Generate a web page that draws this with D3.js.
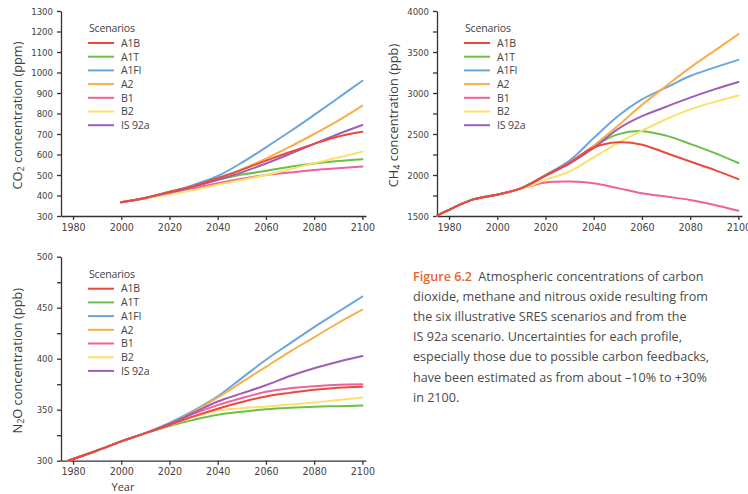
<!DOCTYPE html>
<html>
<head>
<meta charset="utf-8">
<script src="https://cdn.jsdelivr.net/npm/d3@7"></script>
<style>
  body { margin: 0; background: #fff; }
  svg { display: block; }
  .tick text { font-family: 'Liberation Sans Narrow', 'Arial Narrow', 'DejaVu Sans Condensed', sans-serif; fill: #444; }
  .axis path, .axis line { stroke: #333; stroke-width: 1.3; }
  .ytitle, .xtitle { font-family: 'Open Sans', 'Noto Sans', sans-serif; fill: #3e3e3e; }
  .ytitle { font-size: 12.8px; }
  .xtitle { font-size: 11px; }
  .legend text { font-family: 'Open Sans', 'Noto Sans', sans-serif; font-size: 10.6px; fill: #444; letter-spacing: -0.2px; }
  .caption { font-family: 'Open Sans', 'Noto Sans', sans-serif; font-size: 12.6px; fill: #4a4a4a; }
</style>
</head>
<body>
<svg width="748" height="494"></svg>
<script>
const svg = d3.select('svg')

// scenario names + colours
const scenarios = ['A1B', 'A1T', 'A1FI', 'A2', 'B1', 'B2', 'IS 92a']
const colors = ['#e94a3c', '#6cc04a', '#6aa7dc', '#f9ae4b', '#f0609e', '#fde06a', '#9c60b6']
// draw red last so the shared start is red like in the figure
const drawOrder = [1, 2, 3, 4, 5, 6, 0]

const yearTicks = [1980, 2000, 2020, 2040, 2060, 2080, 2100]
const scenYears = [2000, 2010, 2020, 2030, 2040, 2050, 2060, 2070, 2080, 2090, 2100]

// CO2 (ppm), one row per scenario in the order above
const co2Values = [
  [367, 388, 418, 447, 485, 525, 570, 612, 652, 688, 711],
  [367, 388, 416, 445, 476, 502, 520, 540, 556, 568, 577],
  [367, 389, 418, 452, 495, 560, 635, 712, 793, 876, 960],
  [367, 388, 414, 445, 482, 528, 580, 638, 700, 765, 838],
  [367, 387, 411, 435, 460, 482, 500, 512, 524, 533, 541],
  [367, 385, 405, 427, 452, 476, 500, 528, 558, 585, 614],
  [367, 388, 414, 443, 477, 513, 556, 603, 652, 700, 744]
]
const co2Ticks = [300, 400, 500, 600, 700, 800, 900, 1000, 1100, 1200, 1300]

// CH4 (ppb): shared history then scenarios
const ch4HistYears = [1975, 1980, 1985, 1990, 1995]
const ch4Hist = [1505, 1575, 1645, 1703, 1735]
const ch4Values = [
  [1760, 1840, 1995, 2150, 2335, 2398, 2370, 2268, 2165, 2063, 1950],
  [1760, 1840, 1995, 2150, 2350, 2495, 2535, 2480, 2380, 2270, 2146],
  [1760, 1840, 2000, 2175, 2452, 2717, 2922, 3065, 3207, 3310, 3404],
  [1760, 1840, 1990, 2150, 2360, 2600, 2855, 3085, 3310, 3513, 3718],
  [1760, 1835, 1908, 1920, 1900, 1840, 1778, 1737, 1696, 1635, 1565],
  [1760, 1830, 1941, 2045, 2215, 2390, 2540, 2680, 2800, 2890, 2970],
  [1760, 1840, 1990, 2140, 2330, 2560, 2717, 2832, 2943, 3044, 3134]
]
const ch4Ticks = [1500, 2000, 2500, 3000, 3500, 4000]
const ch4Minor = [1750, 2250, 2750, 3250, 3750]

// N2O (ppb)
const n2oHistYears = [1978, 1990]
const n2oHist = [300, 310]
const n2oValues = [
  [319, 327, 335, 343.5, 351, 357.5, 363, 366.5, 369.5, 371.5, 372.5],
  [319, 327, 334, 340, 345, 348, 350.5, 352, 353, 353.5, 354],
  [319, 327, 337, 349, 363, 381, 399, 415, 431, 446, 461],
  [319, 327, 336, 348, 362, 377, 392, 407, 421, 435, 448],
  [319, 327, 336, 346, 354.5, 361.5, 367.5, 371, 373, 374.5, 375],
  [319, 327, 335, 343, 349, 351.5, 353, 355, 357, 359.5, 362],
  [319, 327, 336, 347, 358, 366, 374, 383, 390.6, 397, 402.6]
]
const n2oTicks = [300, 350, 400, 450, 500]
const n2oMinor = [325, 375, 425, 475]

const captionLines = [
  'dioxide, methane and nitrous oxide resulting from',
  'the six illustrative SRES scenarios and from the',
  'IS 92a scenario. Uncertainties for each profile,',
  'especially those due to possible carbon feedbacks,',
  'have been estimated as from about \u201310% to +30%',
  'in 2100.'
]

// one function per panel
function panel(opt) {
  const x = d3.scaleLinear().domain([1975, 2101.5]).range([opt.left, opt.left + 305])
  const y = d3.scaleLinear().domain(opt.yDomain).range([opt.bottom, opt.top])
  const g = svg.append('g')

  g.append('g')
    .attr('class', 'axis')
    .attr('transform', `translate(0,${opt.bottom})`)
    .call(d3.axisBottom(x).tickValues(yearTicks).tickFormat(d3.format('d')).tickSize(4).tickSizeOuter(0).tickPadding(3))
    .selectAll('text').style('font-size', '10.6px')

  g.append('g')
    .attr('class', 'axis')
    .attr('transform', `translate(${opt.left},0)`)
    .call(d3.axisLeft(y).tickValues(opt.yTicks).tickFormat(d3.format('d')).tickSize(4).tickSizeOuter(0).tickPadding(4))
    .selectAll('text').style('font-size', '9.5px')

  // minor ticks without labels
  if (opt.minor) {
    g.append('g')
      .attr('class', 'axis')
      .attr('transform', `translate(${opt.left},0)`)
      .call(d3.axisLeft(y).tickValues(opt.minor).tickFormat('').tickSize(4).tickSizeOuter(0))
      .select('.domain').remove()
  }

  const line = d3.line()
    .x(d => x(d[0]))
    .y(d => y(d[1]))
    .curve(d3.curveCatmullRom.alpha(0.5))

  drawOrder.forEach(i => {
    let pts = scenYears.map((yr, j) => [yr, opt.values[i][j]])
    if (opt.histYears) pts = opt.histYears.map((yr, j) => [yr, opt.hist[j]]).concat(pts)
    g.append('path')
      .attr('d', line(pts))
      .attr('fill', 'none')
      .attr('stroke', colors[i])
      .attr('stroke-width', 2)
      .attr('stroke-linecap', 'round')
  })

  // y title with subscript
  const t = g.append('text')
    .attr('class', 'ytitle')
    .attr('transform', `translate(${opt.titleX},${(opt.top + opt.bottom) / 2 + 2}) rotate(-90)`)
    .attr('text-anchor', 'middle')
  t.append('tspan').text(opt.title[0])
  t.append('tspan').attr('baseline-shift', '-25%').style('font-size', '9px').text(opt.title[1])
  t.append('tspan').text(opt.title[2])

  // legend
  const lg = g.append('g').attr('class', 'legend')
    .attr('transform', `translate(${opt.left + 27},${opt.top})`)
  lg.append('text').attr('x', 1).attr('y', 21).text('Scenarios')
  scenarios.forEach((s, i) => {
    const ly = 32 + i * 13.7
    lg.append('line')
      .attr('x1', 0).attr('x2', 26).attr('y1', ly).attr('y2', ly)
      .attr('stroke', colors[i]).attr('stroke-width', 2)
    lg.append('text').attr('x', 33).attr('y', ly + 3.8).text(s)
  })
  return g
}

panel({ left: 61, top: 11, bottom: 216, yDomain: [300, 1300], yTicks: co2Ticks,
  values: co2Values, title: ['CO', '2', ' concentration (ppm)'], titleX: 22 })
panel({ left: 437, top: 11, bottom: 216, yDomain: [1500, 4000], yTicks: ch4Ticks, minor: ch4Minor,
  values: ch4Values, histYears: ch4HistYears, hist: ch4Hist, title: ['CH', '4', ' concentration (ppb)'], titleX: 398 })
panel({ left: 61, top: 256.7, bottom: 460.7, yDomain: [300, 500], yTicks: n2oTicks, minor: n2oMinor,
  values: n2oValues, histYears: n2oHistYears, hist: n2oHist, title: ['N', '2', 'O concentration (ppb)'], titleX: 22 })

svg.append('text')
  .attr('class', 'xtitle')
  .attr('x', 123).attr('y', 491)
  .attr('text-anchor', 'middle')
  .text('Year')

// caption
const cap = svg.append('text').attr('class', 'caption')
cap.append('tspan').attr('x', 413).attr('y', 281)
  .style('fill', '#e8652e').style('font-weight', 600).text('Figure 6.2')
cap.append('tspan').text('\u2002Atmospheric concentrations of carbon')
captionLines.forEach((l, i) => {
  cap.append('tspan').attr('x', 413).attr('y', 281 + (i + 1) * 20.1).text(l)
})
</script>
</body>
</html>
